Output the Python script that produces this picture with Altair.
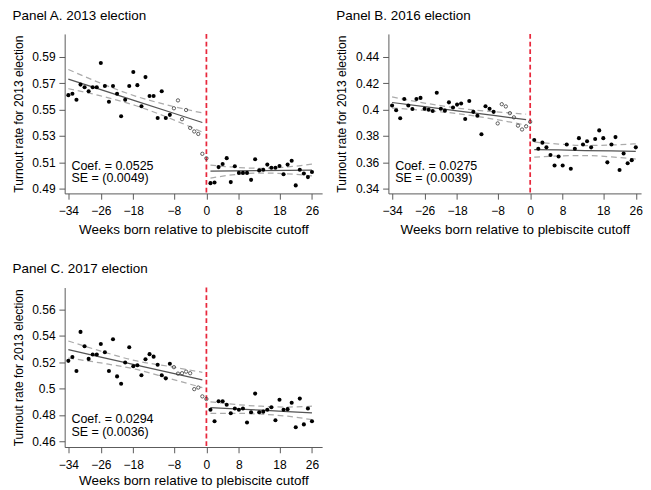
import altair as alt
import pandas as pd

# ---------------- data ----------------
weeks = list(range(-34, 27))          # weeks born relative to cutoff
hollow_weeks = list(range(-8, 1))     # open-circle weeks

turnout_2013 = [0.561, 0.562, 0.5575, 0.569, 0.567, 0.564, 0.567, 0.567, 0.5854, 0.568,
                0.556, 0.568, 0.562, 0.545, 0.5575, 0.568, 0.5786, 0.5686, 0.5526, 0.5747,
                0.5604, 0.5604, 0.5436, 0.564, 0.5436, 0.546,
                0.551, 0.557, 0.5427, 0.5497, 0.5361, 0.5334, 0.5315, 0.5164, 0.513,
                0.4941, 0.4946, 0.5063, 0.5087, 0.5131, 0.4949, 0.507, 0.5019, 0.5019, 0.5019,
                0.4966, 0.5123, 0.5038, 0.5043, 0.5082, 0.5058, 0.5058, 0.5072, 0.5009, 0.5082,
                0.5111, 0.4924, 0.5043, 0.5014, 0.4987, 0.5026]

turnout_2016 = [0.4031, 0.3995, 0.3934, 0.408, 0.4031, 0.4004, 0.408, 0.4089, 0.4007, 0.3999,
                0.399, 0.4128, 0.4007, 0.3992, 0.4055, 0.4016, 0.4038, 0.4046, 0.3929, 0.4065,
                0.3983, 0.3953, 0.3813, 0.4026, 0.4007, 0.3983,
                0.3895, 0.4041, 0.4024, 0.3973, 0.3941, 0.3878, 0.3849, 0.3873, 0.3907,
                0.3769, 0.3703, 0.3749, 0.3713, 0.3655, 0.3575, 0.3643, 0.3575, 0.3735, 0.3550,
                0.3703, 0.3783, 0.3735, 0.3759, 0.3713, 0.3776, 0.3842, 0.3783, 0.3599, 0.3735,
                0.3791, 0.3541, 0.3667, 0.3592, 0.3616, 0.3713]

turnout_2017 = [0.5211, 0.524, 0.5134, 0.5431, 0.5322, 0.5226, 0.5259, 0.5259, 0.5339, 0.5276,
                0.5134, 0.5375, 0.5093, 0.5037, 0.5199, 0.5315, 0.517, 0.5177, 0.5102, 0.5223,
                0.5262, 0.5243, 0.5182, 0.5102, 0.5078, 0.5189,
                0.5163, 0.5114, 0.5117, 0.5129, 0.5117, 0.4996, 0.5008, 0.4941, 0.4921,
                0.4839, 0.4752, 0.4904, 0.4904, 0.4878, 0.4813, 0.4849, 0.4839, 0.4849, 0.4743,
                0.482, 0.4962, 0.482, 0.4825, 0.4839, 0.4858, 0.4759, 0.4916, 0.4839, 0.4844,
                0.4892, 0.4706, 0.4924, 0.4728, 0.4849, 0.4752]

fit_left_weeks = [-34, -26, -17.5, -9, -1]
fit_right_weeks = [1, 7, 13.5, 20, 26]

a_left_fit = [0.5732, 0.5652, 0.5567, 0.5482, 0.5402]
a_left_hi = [0.5805, 0.5700, 0.5603, 0.5530, 0.5475]
a_left_lo = [0.5659, 0.5604, 0.5531, 0.5434, 0.5329]
a_right_fit = [0.5032, 0.5034, 0.5036, 0.5038, 0.5040]
a_right_hi = [0.5078, 0.5062, 0.5054, 0.5064, 0.5086]
a_right_lo = [0.4980, 0.5006, 0.5018, 0.5012, 0.4996]

b_left_fit = [0.4054, 0.4022, 0.3989, 0.3956, 0.3924]
b_left_hi = [0.4096, 0.4050, 0.4010, 0.3984, 0.3966]
b_left_lo = [0.4012, 0.3994, 0.3968, 0.3928, 0.3882]
b_right_fit = [0.3696, 0.3693, 0.3689, 0.3686, 0.3682]
b_right_hi = [0.3754, 0.3738, 0.3727, 0.3731, 0.3740]
b_right_lo = [0.3638, 0.3648, 0.3651, 0.3641, 0.3624]

c_left_fit = [0.5297, 0.5240, 0.5180, 0.5122, 0.5066]
c_left_hi = [0.5362, 0.5285, 0.5212, 0.5168, 0.5124]
c_left_lo = [0.5232, 0.5195, 0.5148, 0.5076, 0.5008]
c_right_fit = [0.4856, 0.4846, 0.4836, 0.4825, 0.4815]
c_right_hi = [0.4900, 0.4880, 0.4866, 0.4860, 0.4866]
c_right_lo = [0.4812, 0.4812, 0.4806, 0.4790, 0.4764]

x_ticks = [-34, -26, -18, -8, 0, 8, 18, 26]
y_ticks_a = [0.49, 0.51, 0.53, 0.55, 0.57, 0.59]
y_ticks_b = [0.34, 0.36, 0.38, 0.40, 0.42, 0.44]
y_ticks_c = [0.46, 0.48, 0.50, 0.52, 0.54, 0.56]

panel_titles = ["Panel A. 2013 election", "Panel B. 2016 election", "Panel C. 2017 election"]
coef_texts = ["Coef. = 0.0525", "Coef. = 0.0275", "Coef. = 0.0294"]
se_texts = ["SE = (0.0049)", "SE = (0.0039)", "SE = (0.0036)"]
y_title = "Turnout rate for 2013 election"
x_title = "Weeks born relative to plebiscite cutoff"

FONT = "Liberation Sans"
H = 166
PX_PER_WEEK = 268 / (28.5 + 34.9)


def fit_frame(lf, lh, ll, rf, rh, rl):
    rows = []
    for side, wk, f, h, l in [("L", fit_left_weeks, lf, lh, ll), ("R", fit_right_weeks, rf, rh, rl)]:
        for kind, arr in [("fit", f), ("hi", h), ("lo", l)]:
            for w_, v in zip(wk, arr):
                rows.append({"week": w_, "turnout": v, "series": side + kind, "kind": kind})
    return pd.DataFrame(rows)


def panel(title, vals, fits, ydom, yticks, coef, se, xmax=28.5, xtitle_pad=6):
    pts = pd.DataFrame({"week": weeks, "turnout": vals})
    pts["hollow"] = pts["week"].isin(hollow_weeks)
    fd = fit_frame(*fits)
    width = round((xmax + 34.9) * PX_PER_WEEK)

    x = alt.X("week:Q",
              scale=alt.Scale(domain=[-34.9, xmax], nice=False, zero=False),
              axis=alt.Axis(values=x_ticks, title=x_title, format="d", grid=False,
                            tickSize=6, labelPadding=6, titlePadding=xtitle_pad,
                            labelFontSize=12.5, titleFontSize=14, titleFontWeight="normal",
                            domainColor="#555", tickColor="#555",
                            labelColor="black", titleColor="black", labelFlush=False))
    y = alt.Y("turnout:Q",
              scale=alt.Scale(domain=ydom, nice=False, zero=False),
              axis=alt.Axis(values=yticks, title=y_title, format=".2~f", grid=False,
                            tickSize=6, labelPadding=4, titlePadding=7,
                            labelFontSize=12.5, titleFontSize=12.5, titleFontWeight="normal",
                            domainColor="#555", tickColor="#555",
                            labelColor="black", titleColor="black"))

    ci = alt.Chart(fd).transform_filter("datum.kind != 'fit'").mark_line(
        color="#ababab", strokeDash=[6, 4], strokeWidth=1.3, interpolate="monotone"
    ).encode(x=x, y=y, detail="series:N")
    fitl = alt.Chart(fd).transform_filter("datum.kind == 'fit'").mark_line(
        color="#555555", strokeWidth=1.3
    ).encode(x=x, y=y, detail="series:N")
    rule = alt.Chart(pd.DataFrame({"week": [0]})).mark_rule(
        color="#e8283c", strokeDash=[5, 3], strokeWidth=1.8
    ).encode(x=x)
    filled = alt.Chart(pts).transform_filter("!datum.hollow").mark_circle(
        size=18, color="black", opacity=1
    ).encode(x=x, y=y)
    hollow = alt.Chart(pts).transform_filter("datum.hollow").mark_point(
        shape="circle", size=12, filled=False, stroke="#333333", strokeWidth=0.8, opacity=1
    ).encode(x=x, y=y)
    t1 = alt.Chart(pd.DataFrame({"t": [coef]})).mark_text(
        align="left", baseline="alphabetic", fontSize=13, font=FONT, color="black"
    ).encode(text="t:N", x=alt.value(7), y=alt.value(141.5))
    t2 = alt.Chart(pd.DataFrame({"t": [se]})).mark_text(
        align="left", baseline="alphabetic", fontSize=13, font=FONT, color="black"
    ).encode(text="t:N", x=alt.value(7), y=alt.value(154.5))

    return alt.layer(ci, fitl, rule, filled, hollow, t1, t2).properties(
        width=width, height=H,
        title=alt.TitleParams(title, anchor="start", frame="bounds", fontSize=14,
                              fontWeight="normal", font=FONT, color="black",
                              offset=11),
    )


pA = panel(panel_titles[0], turnout_2013,
           (a_left_fit, a_left_hi, a_left_lo, a_right_fit, a_right_hi, a_right_lo),
           [0.4863, 0.6075], y_ticks_a, coef_texts[0], se_texts[0])
pB = panel(panel_titles[1], turnout_2016,
           (b_left_fit, b_left_hi, b_left_lo, b_right_fit, b_right_hi, b_right_lo),
           [0.3363, 0.4575], y_ticks_b, coef_texts[1], se_texts[1], xmax=27.3)
pC = panel(panel_titles[2], turnout_2017,
           (c_left_fit, c_left_hi, c_left_lo, c_right_fit, c_right_hi, c_right_lo),
           [0.4556, 0.5768], y_ticks_c, coef_texts[2], se_texts[2], xtitle_pad=3)

chart = alt.vconcat(
    alt.hconcat(pA, pB, spacing=14),
    pC,
    spacing=27,
).properties(
    padding={"left": 4, "top": -9, "right": 0, "bottom": 0}
).configure(font=FONT).configure_view(stroke=None)

chart.save("out.html", embed_options={"renderer": "svg", "actions": False})
